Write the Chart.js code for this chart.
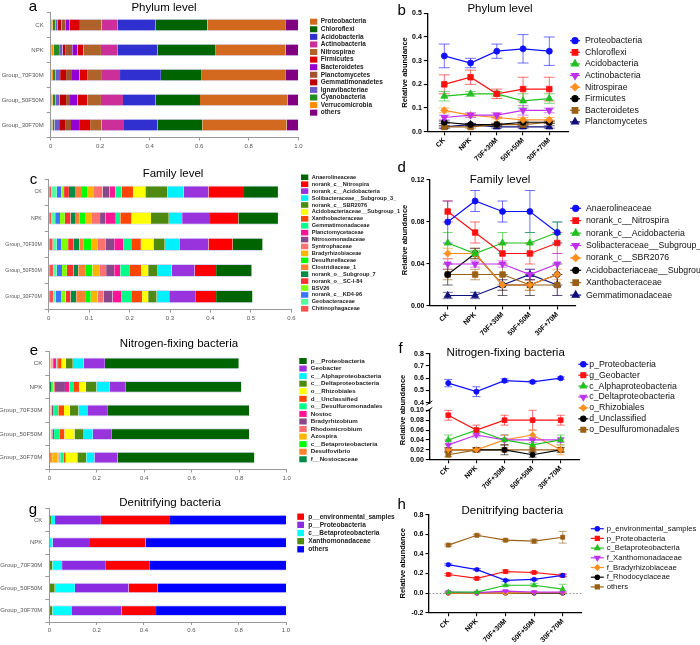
<!DOCTYPE html>
<html lang="en">
<head>
<meta charset="UTF-8">
<title>Bacterial community composition</title>
<script src="https://cdn.jsdelivr.net/npm/chart.js"></script>
<style>
  body { margin: 0; background: #fff; }
  .board { position: relative; width: 700px; height: 645px; }
  .board canvas { position: absolute; left: 0; top: 0; }
</style>
</head>
<body>
<div class="board">
  <canvas id="phylumBar" width="700" height="645"></canvas>
  <canvas id="phylumLine" width="700" height="645"></canvas>
  <canvas id="familyBar" width="700" height="645"></canvas>
  <canvas id="familyLine" width="700" height="645"></canvas>
  <canvas id="nfixBar" width="700" height="645"></canvas>
  <canvas id="nfixLine" width="700" height="645"></canvas>
  <canvas id="denitBar" width="700" height="645"></canvas>
  <canvas id="denitLine" width="700" height="645"></canvas>
</div>
<script>
const FONT = "'Liberation Sans', Arial, Helvetica, sans-serif";

// sample groups
const barGroups = ['CK', 'NPK', 'Group_70F30M', 'Group_50F50M', 'Group_30F70M'];
const lineGroups = ['CK', 'NPK', '70F+30M', '50F+50M', '30F+70M'];
const shareTicks = [0, 0.2, 0.4, 0.6, 0.8, 1];
const familyTicks = [0, 0.1, 0.2, 0.3, 0.4, 0.5, 0.6];

// a - phylum composition (legend order, one row per taxon, columns = groups)
const phylumNames = ['Proteobacteria', 'Chloroflexi', 'Acidobacteria', 'Actinobacteria', 'Nitrospirae',
  'Firmicutes', 'Bacteroidetes', 'Planctomycetes', 'Gemmatimonadetes', 'Ignavibacteriae',
  'Cyanobacteria', 'Verrucomicrobia', 'others'];
const phylumColors = ['#d2691e', '#006400', '#3030d0', '#cc2e9a', '#b0622a', '#dd0000', '#9400d3',
  '#a0522d', '#c00000', '#6a5acd', '#228b22', '#ff8c00', '#800080'];
const phylumShare = [
  [0.317, 0.285, 0.340, 0.353, 0.341],
  [0.209, 0.233, 0.165, 0.179, 0.180],
  [0.155, 0.162, 0.165, 0.132, 0.136],
  [0.063, 0.066, 0.073, 0.089, 0.090],
  [0.088, 0.071, 0.060, 0.054, 0.047],
  [0.043, 0.024, 0.031, 0.041, 0.041],
  [0.014, 0.021, 0.030, 0.030, 0.036],
  [0.017, 0.026, 0.024, 0.016, 0.024],
  [0.017, 0.013, 0.024, 0.027, 0.024],
  [0.007, 0.014, 0.018, 0.015, 0.019],
  [0.012, 0.023, 0.011, 0.012, 0.008],
  [0.008, 0.011, 0.009, 0.008, 0.007],
  [0.050, 0.051, 0.050, 0.044, 0.047]
];
const phylumStack = [11, 10, 9, 8, 7, 6, 5, 4, 3, 2, 1, 0, 12];

// b - phylum trends
const phylumTrendNames = ['Proteobacteria', 'Chloroflexi', 'Acidobacteria', 'Actinobacteria',
  'Nitrospirae', 'Firmicutes', 'Bacteroidetes', 'Planctomycetes'];
const phylumMean = [
  [0.32, 0.29, 0.34, 0.35, 0.34],
  [0.20, 0.23, 0.16, 0.18, 0.18],
  [0.15, 0.16, 0.16, 0.13, 0.14],
  [0.06, 0.07, 0.07, 0.09, 0.09],
  [0.09, 0.07, 0.06, 0.05, 0.05],
  [0.04, 0.03, 0.03, 0.04, 0.04],
  [0.02, 0.02, 0.03, 0.03, 0.04],
  [0.02, 0.03, 0.02, 0.02, 0.02]
];
const phylumSd = [
  [0.05, 0.02, 0.03, 0.06, 0.06],
  [0.04, 0.03, 0.02, 0.05, 0.05],
  [0.02, 0.01, 0.01, 0.03, 0.02],
  [0.01, 0.01, 0.01, 0.02, 0.01],
  [0.01, 0.005, 0.005, 0.01, 0.01],
  [0.005, 0.005, 0.005, 0.005, 0.005],
  [0.005, 0.005, 0.005, 0.005, 0.005],
  [0.005, 0.005, 0.005, 0.005, 0.005]
];

// c - family composition
const familyNames = ['Anaerolineaceae', 'norank_c__Nitrospira', 'norank_c__Acidobacteria',
  'Solibacteraceae__Subgroup_3_', 'norank_c__SBR2076', 'Acidobacteriaceae__Subgroup_1',
  'Xanthobacteraceae', 'Gemmatimonadaceae', 'Planctomycetaceae', 'Nitrosomonadaceae',
  'Syntrophaceae', 'Bradyrhizobiaceae', 'Desulfurellaceae', 'Clostridiaceae_1',
  'norank_o__Subgroup_7', 'norank_o__SC-I-84', 'BSV26', 'norank_c__KD4-96',
  'Geobacteraceae', 'Chitinophagaceae'];
const familyColors = ['#006400', '#ff0000', '#9933dd', '#00f0ff', '#4f8a10', '#ffff00', '#ff4500',
  '#00ff88', '#ff1493', '#8b4789', '#ff7070', '#ffb400', '#00ff00', '#ff8030', '#008b45',
  '#ff3030', '#80ff00', '#3a75ff', '#50ffa0', '#ff5050'];
const familyShare = [
  [0.084, 0.098, 0.074, 0.088, 0.090],
  [0.088, 0.070, 0.060, 0.053, 0.050],
  [0.061, 0.069, 0.072, 0.057, 0.066],
  [0.040, 0.033, 0.036, 0.036, 0.031],
  [0.055, 0.044, 0.028, 0.022, 0.021],
  [0.030, 0.048, 0.031, 0.017, 0.015],
  [0.029, 0.028, 0.022, 0.028, 0.025],
  [0.015, 0.011, 0.022, 0.024, 0.027],
  [0.015, 0.025, 0.022, 0.015, 0.021],
  [0.017, 0.014, 0.022, 0.020, 0.022],
  [0.021, 0.020, 0.020, 0.017, 0.015],
  [0.017, 0.017, 0.015, 0.017, 0.017],
  [0.015, 0.013, 0.018, 0.016, 0.014],
  [0.015, 0.010, 0.011, 0.019, 0.022],
  [0.015, 0.013, 0.014, 0.012, 0.014],
  [0.012, 0.014, 0.014, 0.016, 0.012],
  [0.007, 0.012, 0.016, 0.012, 0.010],
  [0.011, 0.012, 0.012, 0.013, 0.015],
  [0.013, 0.010, 0.010, 0.009, 0.005],
  [0.007, 0.006, 0.010, 0.011, 0.012]
];
const familyStack = [19, 18, 17, 16, 15, 14, 13, 12, 11, 10, 9, 8, 7, 6, 5, 4, 3, 2, 1, 0];

// d - family trends
const familyTrendNames = ['Anaerolineaceae', 'norank_c__Nitrospira', 'norank_c__Acidobacteria',
  'Solibacteraceae__Subgroup_3_', 'norank_c__SBR2076', 'Acidobacteriaceae__Subgroup_1',
  'Xanthobacteraceae', 'Gemmatimonadaceae'];
const familyMean = [
  [0.08, 0.10, 0.09, 0.09, 0.07],
  [0.09, 0.07, 0.05, 0.05, 0.06],
  [0.06, 0.05, 0.06, 0.06, 0.07],
  [0.04, 0.04, 0.04, 0.03, 0.04],
  [0.05, 0.05, 0.02, 0.02, 0.03],
  [0.03, 0.05, 0.02, 0.02, 0.03],
  [0.03, 0.03, 0.03, 0.02, 0.02],
  [0.01, 0.01, 0.02, 0.03, 0.02]
];
const familySd = [
  [0.02, 0.01, 0.01, 0.02, 0.01],
  [0.01, 0.01, 0.01, 0.01, 0.01],
  [0.01, 0.003, 0.01, 0.01, 0.01],
  [0.005, 0.003, 0.003, 0.005, 0.01],
  [0.005, 0.005, 0.005, 0.005, 0.005],
  [0.01, 0.005, 0.01, 0.01, 0.01],
  [0.005, 0.005, 0.01, 0.005, 0.01],
  [0.003, 0.003, 0.005, 0.005, 0.01]
];

// e - nitrogen-fixing composition
const nfixNames = ['p__Proteobacteria', 'Geobacter', 'c__Alphaproteobacteria', 'c__Deltaproteobacteria',
  'o__Rhizobiales', 'd__Unclassified', 'o__Desulfuromonadales', 'Nostoc', 'Bradyrhizobium',
  'Rhodomicrobium', 'Azospira', 'c__Betaproteobacteria', 'Desulfovibrio', 'f__Nostocaceae'];
const nfixColors = ['#006400', '#9933dd', '#00f0ff', '#4f8a10', '#ffff00', '#ff4500', '#00ff88',
  '#ff1493', '#8b4789', '#ff7070', '#ffb400', '#00ff00', '#ff8030', '#008b45'];
const nfixShare = [
  [0.564, 0.489, 0.598, 0.581, 0.576],
  [0.089, 0.065, 0.081, 0.078, 0.098],
  [0.046, 0.056, 0.040, 0.041, 0.034],
  [0.030, 0.046, 0.037, 0.036, 0.038],
  [0.017, 0.028, 0.024, 0.042, 0.049],
  [0.015, 0.021, 0.024, 0.022, 0.010],
  [0.007, 0.020, 0.018, 0.022, 0.013],
  [0.014, 0.018, 0.003, 0.006, 0.003],
  [0.002, 0.042, 0.006, 0.004, 0.004],
  [0.006, 0.004, 0.003, 0.004, 0.003],
  [0.002, 0.002, 0.002, 0.001, 0.024],
  [0.001, 0.006, 0.001, 0.001, 0.001],
  [0.003, 0.002, 0.003, 0.002, 0.010],
  [0.002, 0.010, 0.002, 0.002, 0.001]
];
const nfixStack = [13, 12, 11, 10, 9, 8, 7, 6, 5, 4, 3, 2, 1, 0];

// f - nitrogen-fixing trends (first series on the upper, broken axis)
const nfixTrendNames = ['p_Proteobacteria', 'g_Geobacter', 'c_Alphaproteobacteria',
  'c_Deltaproteobacteria', 'o_Rhizobiales', 'd_Unclassified', 'o_Desulfuromonadales'];
const nfixMean = [
  [0.56, 0.49, 0.58, 0.57, 0.60],
  [0.09, 0.06, 0.08, 0.08, 0.08],
  [0.04, 0.06, 0.04, 0.03, 0.04],
  [0.03, 0.05, 0.04, 0.04, 0.04],
  [0.02, 0.02, 0.04, 0.05, 0.02],
  [0.02, 0.02, 0.02, 0.01, 0.02],
  [0.01, 0.02, 0.02, 0.02, 0.02]
];
const nfixSd = [
  [0.03, 0.04, 0.015, 0.01, 0.01],
  [0.01, 0.01, 0.01, 0.02, 0.01],
  [0.01, 0.004, 0.01, 0.01, 0.01],
  [0.01, 0.004, 0.01, 0.005, 0.005],
  [0.004, 0.004, 0.01, 0.01, 0.01],
  [0.004, 0.004, 0.01, 0.005, 0.005],
  [0.004, 0.004, 0.004, 0.004, 0.004]
];
const nfixAxis = ['y2', 'y', 'y', 'y', 'y', 'y', 'y'];

// g - denitrifying composition
const denitNames = ['p__environmental_samples', 'p__Proteobacteria', 'c__Betaproteobacteria',
  'Xanthomonadaceae', 'others'];
const denitColors = ['#ff0000', '#8a2be2', '#00ffff', '#4f8a10', '#0000ff'];
const denitShare = [
  [0.292, 0.239, 0.186, 0.123, 0.145],
  [0.194, 0.154, 0.185, 0.227, 0.213],
  [0.017, 0.013, 0.041, 0.085, 0.080],
  [0.007, 0.001, 0.013, 0.023, 0.013],
  [0.490, 0.593, 0.575, 0.542, 0.549]
];
const denitStack = [3, 2, 1, 0, 4];

// h - denitrifying trends
const denitTrendNames = ['p_environmental_samples', 'p_Proteobacteria', 'c_Betaproteobacteria',
  'f_Xanthomonadaceae', 'f_Bradyrhizobiaceae', 'f_Rhodocyclaceae', 'others'];
const denitMean = [
  [0.29, 0.24, 0.13, 0.14, 0.18],
  [0.19, 0.15, 0.22, 0.21, 0.18],
  [0.01, 0.01, 0.08, 0.08, 0.04],
  [0.01, 0.005, 0.02, 0.01, 0.01],
  [0, 0, 0, 0.005, 0.005],
  [0, 0, 0, 0, 0],
  [0.49, 0.59, 0.54, 0.53, 0.57]
];
const denitSd = [
  [0.01, 0.01, 0.01, 0.01, 0.015],
  [0.01, 0.01, 0.015, 0.01, 0.01],
  [0, 0, 0.01, 0.015, 0.05],
  [0.005, 0.005, 0.005, 0.005, 0.005],
  [0, 0, 0, 0, 0],
  [0, 0, 0, 0, 0],
  [0.01, 0.01, 0.01, 0.02, 0.06]
];

const trendColors = ['#1010ff', '#ff1010', '#20c020', '#c030f0', '#ff9020', '#000000', '#9a6014', '#10107a'];
const trendMarks = ['circle', 'rect', 'triangle', 'down', 'rectRot', 'circle', 'rect', 'triangle'];

// ---------- helpers ----------
function fade(hex, a) {
  const n = parseInt(hex.slice(1), 16);
  return `rgba(${n >> 16},${(n >> 8) & 255},${n & 255},${a})`;
}
function pad(area, w, h) {
  return { left: area.l - w, top: area.t, right: 700 - area.r, bottom: 645 - area.b - h };
}
function fixSize(key, size) {
  return s => {
    s[key] = size;
    s.paddingLeft = s.paddingRight = s.paddingTop = s.paddingBottom = 0;
  };
}
function setTicks(values) {
  return s => { s.ticks = values.map(v => ({ value: v })); };
}

// error bars drawn under the markers
const errorBars = {
  id: 'errorBars',
  defaults: { cap: 4 },
  beforeDatasetsDraw(chart, args, opts) {
    const ctx = chart.ctx;
    chart.data.datasets.forEach((ds, i) => {
      if (!ds.errors) return;
      const meta = chart.getDatasetMeta(i);
      const ys = chart.scales[meta.yAxisID];
      ctx.save();
      ctx.strokeStyle = fade(ds.borderColor, 0.6);
      ctx.lineWidth = 1;
      meta.data.forEach((pt, j) => {
        const e = ds.errors[j];
        if (!e) return;
        const v = ds.data[j].y;
        const y1 = ys.getPixelForValue(v + e), y2 = ys.getPixelForValue(v - e);
        const c = opts.cap;
        ctx.beginPath();
        ctx.moveTo(pt.x, y1); ctx.lineTo(pt.x, y2);
        ctx.moveTo(pt.x - c, y1); ctx.lineTo(pt.x + c, y1);
        ctx.moveTo(pt.x - c, y2); ctx.lineTo(pt.x + c, y2);
        ctx.stroke();
      });
      ctx.restore();
    });
  }
};

// titles, panel letters, y titles, axis break
const decor = {
  id: 'decor',
  afterDraw(chart, args, o) {
    const ctx = chart.ctx;
    ctx.save();
    ctx.fillStyle = '#000';
    ctx.textAlign = 'center';
    ctx.textBaseline = 'middle';
    if (o.title) {
      ctx.font = `11.5px ${FONT}`;
      ctx.fillText(o.title[0], o.title[1], o.title[2]);
    }
    if (o.letter) {
      ctx.font = `15px ${FONT}`;
      ctx.fillText(o.letter[0], o.letter[1], o.letter[2]);
    }
    if (o.axisBreak) {
      const [x, y] = o.axisBreak;
      ctx.fillStyle = '#fff';
      ctx.fillRect(x - 3, y - 2.5, 6, 5);
      ctx.strokeStyle = '#000';
      ctx.lineWidth = 1;
      ctx.beginPath();
      ctx.moveTo(x - 3, y - 1.5); ctx.lineTo(x + 3, y - 5.5);
      ctx.moveTo(x - 3, y + 5); ctx.lineTo(x + 3, y + 1);
      ctx.stroke();
      ctx.fillStyle = '#000';
    }
    if (o.ylabel) {
      ctx.translate(o.ylabel[1], o.ylabel[2]);
      ctx.rotate(-Math.PI / 2);
      ctx.font = `bold 7.5px ${FONT}`;
      ctx.fillText(o.ylabel[0], 0, 0);
    }
    ctx.restore();
  }
};

// legend placed freely
const keyBox = {
  id: 'keyBox',
  afterDraw(chart, args, o) {
    if (!o.items) return;
    const ctx = chart.ctx;
    const byLabel = {};
    chart.data.datasets.forEach(d => { byLabel[d.label] = d; });
    ctx.save();
    o.items.forEach((lab, k) => {
      const d = byLabel[lab];
      const y = o.y + k * o.dy;
      if (o.kind === 'box') {
        ctx.fillStyle = d.backgroundColor;
        ctx.fillRect(o.x, y - o.h / 2, o.w, o.h);
      } else {
        ctx.strokeStyle = d.borderColor;
        ctx.lineWidth = 1.2;
        ctx.beginPath();
        ctx.moveTo(o.x - o.len, y); ctx.lineTo(o.x + o.len, y);
        ctx.stroke();
        ctx.fillStyle = d.backgroundColor;
        Chart.helpers.drawPoint(ctx, {
          pointStyle: d.pointStyle, rotation: d.pointRotation,
          radius: d.pointRadius, borderWidth: 0.8
        }, o.x, y);
      }
      ctx.fillStyle = o.color;
      ctx.font = `${o.bold ? 'bold ' : ''}${o.size}px ${FONT}`;
      ctx.textAlign = 'left';
      ctx.textBaseline = 'middle';
      ctx.fillText(lab, o.tx, y);
    });
    ctx.restore();
  }
};

Chart.register(errorBars, decor, keyBox);

// ---------- stacked composition bars ----------
function shareChart(id, c) {
  const datasets = c.stack.map(i => ({
    label: c.names[i],
    data: c.rows[i],
    backgroundColor: c.colors[i],
    borderColor: '#d6d6f2',
    borderWidth: { top: 1, bottom: 1, left: 0, right: 0 },
    borderSkipped: false,
    categoryPercentage: 1,
    barPercentage: c.bar
  }));
  const yw = c.area.l;        // axis box reaches the page edge so labels are not clipped
  return new Chart(document.getElementById(id), {
    type: 'bar',
    data: { labels: barGroups, datasets },
    options: {
      indexAxis: 'y',
      responsive: false,
      animation: false,
      events: [],
      layout: { autoPadding: false, padding: pad(c.area, yw, 14) },
      plugins: {
        legend: { display: false },
        tooltip: { enabled: false },
        decor: { title: c.title, letter: c.letter },
        keyBox: Object.assign({ kind: 'box', items: c.names, bold: true, color: '#222' }, c.key)
      },
      scales: {
        x: {
          stacked: true, min: 0, max: c.ticks[c.ticks.length - 1],
          afterBuildTicks: setTicks(c.ticks),
          afterFit: fixSize('height', 14),
          ticks: { font: { family: FONT, size: 6 }, color: '#555', padding: 2, maxRotation: 0 },
          grid: { drawOnChartArea: false, tickLength: 3, color: '#999' },
          border: { color: '#999', width: 1 }
        },
        y: {
          stacked: true,
          afterFit: fixSize('width', yw),
          ticks: { font: { family: FONT, size: c.labelSize }, color: '#555', padding: 3 },
          grid: { drawOnChartArea: false, tickLength: 4, color: '#999', offset: true },
          border: { color: '#999', width: 1 }
        }
      }
    }
  });
}

// ---------- trend lines with error bars ----------
const MARK_SCALE = { circle: 1, rect: 1.3, triangle: 1.35, rectRot: 1.2 };

function valueAxis(spec, extra) {
  return Object.assign({
    type: 'linear', position: 'left', min: spec.min, max: spec.max,
    afterBuildTicks: setTicks(spec.ticks),
    afterFit: fixSize('width', 30),
    ticks: {
      callback: v => v.toFixed(spec.digits),
      font: { family: FONT, size: 7, weight: 'bold' }, color: '#000', padding: 2
    },
    grid: { drawOnChartArea: false, tickLength: 3.5, color: '#000', lineWidth: 1.1 },
    border: { color: '#000', width: 1.3 }
  }, extra || {});
}

function trendChart(id, c) {
  const datasets = c.names.map((name, i) => {
    const mark = trendMarks[i];
    const style = mark === 'down' ? 'triangle' : mark;
    return {
      label: name,
      data: c.values[i].map((v, j) => ({ x: j, y: v })),
      errors: c.errors[i],
      yAxisID: c.axes ? c.axes[i] : 'y',
      borderColor: trendColors[i],
      backgroundColor: trendColors[i],
      borderWidth: 1.2,
      pointStyle: style,
      pointRotation: mark === 'down' ? 180 : 0,
      pointRadius: c.r * MARK_SCALE[style],
      pointBorderWidth: 0.8,
      clip: false
    };
  });
  const xh = 645 - c.area.b;   // axis box down to the page bottom so rotated labels are not clipped
  const scales = {
    x: {
      type: 'linear', min: c.xMin, max: c.xMax,
      afterBuildTicks: setTicks(lineGroups.map((g, j) => j)),
      afterFit: fixSize('height', xh),
      ticks: {
        callback: v => lineGroups[v], autoSkip: false, minRotation: 45, maxRotation: 45,
        font: { family: FONT, size: 7, weight: 'bold' }, color: '#000', padding: 1
      },
      grid: { drawOnChartArea: false, tickLength: 3.5, color: '#000', lineWidth: 1.1 },
      border: { color: '#000', width: 1.3 }
    }
  };
  Object.assign(scales, c.yScales);
  return new Chart(document.getElementById(id), {
    type: 'line',
    data: { datasets },
    options: {
      responsive: false,
      animation: false,
      events: [],
      layout: { autoPadding: false, padding: pad(c.area, 30, xh) },
      plugins: {
        legend: { display: false },
        tooltip: { enabled: false },
        errorBars: { cap: c.cap },
        decor: { title: c.title, letter: c.letter, ylabel: ['Relative abundance', c.ylab[0], c.ylab[1]], axisBreak: c.axisBreak },
        keyBox: Object.assign({ kind: 'line', items: c.names, bold: false, color: '#111' }, c.key)
      },
      scales
    }
  });
}

// ---------- panels ----------
shareChart('phylumBar', {
  names: phylumNames, colors: phylumColors, rows: phylumShare, stack: phylumStack,
  ticks: shareTicks, bar: 0.5, labelSize: 6,
  area: { l: 50.7, r: 298.3, t: 12.5, b: 137.5 },
  title: ['Phylum level', 164, 7.5], letter: ['a', 33, 7],
  key: { x: 310, y: 21.7, dy: 7.58, w: 7.3, h: 6, tx: 320.7, size: 6.5 }
});

trendChart('phylumLine', {
  names: phylumTrendNames, values: phylumMean, errors: phylumSd,
  xMin: -0.648, xMax: 4.724, r: 3, cap: 5.5,
  area: { l: 427.3, r: 568.3, t: 13.3, b: 131.7 },
  yScales: { y: valueAxis({ min: 0, max: 0.5, ticks: [0, 0.1, 0.2, 0.3, 0.4, 0.5], digits: 1 }) },
  title: ['Phylum level', 500, 9.3], letter: ['b', 401.7, 11], ylab: [405, 72.5],
  key: { x: 575, len: 5, y: 40.7, dy: 11.6, tx: 585, size: 8.8 }
});

shareChart('familyBar', {
  names: familyNames, colors: familyColors, rows: familyShare, stack: familyStack,
  ticks: familyTicks, bar: 0.5, labelSize: 5.2,
  area: { l: 48.7, r: 291.3, t: 179, b: 309.7 },
  title: ['Family level', 173, 174], letter: ['c', 33.5, 180],
  key: { x: 301, y: 177.3, dy: 6.92, w: 7.3, h: 5.6, tx: 311.7, size: 5.6 }
});

trendChart('familyLine', {
  names: familyTrendNames, values: familyMean, errors: familySd,
  xMin: -0.646, xMax: 4.65, r: 3, cap: 5,
  area: { l: 430, r: 575.1, t: 180, b: 306 },
  yScales: { y: valueAxis({ min: 0, max: 0.12, ticks: [0, 0.04, 0.08, 0.12], digits: 2 }) },
  title: ['Family level', 500, 180], letter: ['d', 401.7, 168.3], ylab: [405, 240],
  key: { x: 575.7, len: 5.5, y: 208.3, dy: 12.4, tx: 586, size: 8.75 }
});

shareChart('nfixBar', {
  names: nfixNames, colors: nfixColors, rows: nfixShare, stack: nfixStack,
  ticks: shareTicks, bar: 0.5, labelSize: 6.2,
  area: { l: 49.3, r: 286.7, t: 351.5, b: 469.5 },
  title: ['Nitrogen-fixing bacteria', 179, 344.3], letter: ['e', 34, 350.7],
  key: { x: 299.3, y: 361, dy: 7.56, w: 7.4, h: 6, tx: 310.7, size: 6.2 }
});

trendChart('nfixLine', {
  names: nfixTrendNames, values: nfixMean, errors: nfixSd, axes: nfixAxis,
  xMin: -0.676, xMax: 4.687, r: 2.6, cap: 4,
  area: { l: 429.3, r: 580, t: 353.7, b: 459.7 },
  yScales: {
    y: valueAxis({ min: 0, max: 0.1073, ticks: [0, 0.02, 0.04, 0.06, 0.08, 0.10], digits: 2 },
      { stack: 'broken', stackWeight: 1 }),
    y2: valueAxis({ min: 0.3673, max: 0.8, ticks: [0.4, 0.5, 0.6, 0.7, 0.8], digits: 1 },
      { stack: 'broken', stackWeight: 1 })
  },
  axisBreak: [429.3, 406.5],
  title: ['Nitrogen-fixing bacteria', 505.7, 352.7], letter: ['f', 400.7, 349.3], ylab: [403.3, 410],
  key: { x: 583.3, len: 5, y: 364.3, dy: 10.9, tx: 589.3, size: 8.75 }
});

shareChart('denitBar', {
  names: denitNames, colors: denitColors, rows: denitShare, stack: denitStack,
  ticks: shareTicks, bar: 0.47, labelSize: 6,
  area: { l: 49.3, r: 286, t: 508.7, b: 622 },
  title: ['Denitrifying bacteria', 170, 502.7], letter: ['g', 33, 510],
  key: { x: 297.3, y: 516.7, dy: 8.15, w: 6.7, h: 6.3, tx: 308.3, size: 6.6 }
});

trendChart('denitLine', {
  names: denitTrendNames, values: denitMean, errors: denitSd,
  xMin: -0.675, xMax: 4.664, r: 2.2, cap: 4,
  area: { l: 429, r: 581.7, t: 514.7, b: 612.7 },
  yScales: {
    y: valueAxis({ min: -0.2, max: 0.8, ticks: [-0.2, 0, 0.2, 0.4, 0.6, 0.8], digits: 1 }, {
      grid: {
        drawOnChartArea: true, tickLength: 3.5, lineWidth: 1.1, tickColor: '#000',
        color: ctx => (ctx.tick && ctx.tick.value === 0 ? '#8a8a8a' : 'rgba(0,0,0,0)')
      },
      border: { color: '#000', width: 1.3, dash: [1.5, 2] }
    })
  },
  title: ['Denitrifying bacteria', 512.3, 511], letter: ['h', 401.7, 505], ylab: [403.3, 563.3],
  key: { x: 597.3, len: 6.5, y: 528.7, dy: 9.7, tx: 606.7, size: 7.7 }
});
</script>
</body>
</html>
